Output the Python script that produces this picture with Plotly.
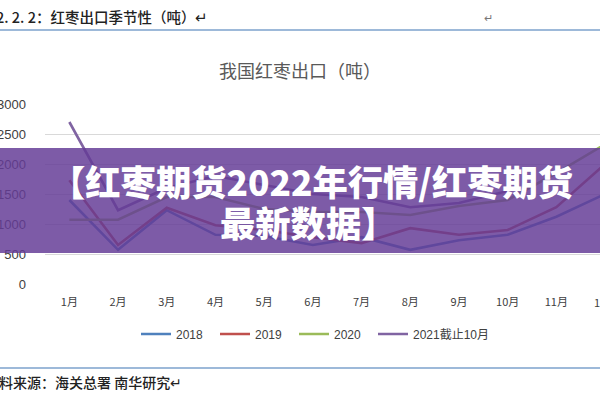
import plotly.graph_objects as go

# ---- data ----
months = ["1月", "2月", "3月", "4月", "5月", "6月", "7月", "8月", "9月", "10月", "11月", "12月"]
month_idx = [1, 2, 3, 4, 5, 6, 7, 8, 9, 10, 11, 12]
s2018 = [1400, 570, 1230, 820, 800, 650, 780, 570, 730, 820, 1120, 1500]
s2019 = [1730, 650, 1270, 980, 900, 780, 680, 930, 820, 900, 1280, 2000]
s2020 = [1070, 1070, 1450, 1450, 1250, 1200, 1200, 1150, 1300, 1400, 1850, 2330]
s2021 = [2700, 1230, 1600, 1800, 1650, 1500, 1450, 1280, 1350, 1550]
series_names = ["2018", "2019", "2020", "2021截止10月"]
series_colors = ["#4F81BD", "#C0504D", "#9BBB59", "#8064A2"]
y_ticks = [0, 500, 1000, 1500, 2000, 2500, 3000]

W, H = 600, 400
L, R, T, B = 45, 0, 104, 116
PW, PH = W - L - R, H - T - B

def px(xp):
    return (xp - L) / PW

def py(yp):
    return (H - B - yp) / PH

FONT = "Liberation Sans, Arial, Noto Sans CJK SC, sans-serif"
CJK = "Noto Sans CJK SC, Liberation Sans, sans-serif"

fig = go.Figure()
for i, (name, vals, col) in enumerate(zip(series_names, [s2018, s2019, s2020, s2021], series_colors)):
    fig.add_trace(go.Scatter(
        x=month_idx[:len(vals)], y=vals, name=name, mode="lines",
        line=dict(color=col, width=2.6), cliponaxis=True,
        legend="legend" if i < 3 else "legend2",
    ))

ENTRY = 79
leg_common = dict(orientation="h", xanchor="left", y=py(334), yanchor="middle",
                  font=dict(family=FONT, size=12, color="#404040"), bgcolor="rgba(0,0,0,0)",
                  tracegroupgap=0)

fig.update_layout(
    width=W, height=H,
    margin=dict(l=L, r=R, t=T, b=B, autoexpand=False),
    paper_bgcolor="white", plot_bgcolor="white",
    title=dict(text="我国红枣出口（吨）", x=0.5, xref="container", xanchor="center",
               y=1 - 72 / H, yref="container", yanchor="middle",
               font=dict(family=CJK, size=18, color="#595959")),
    xaxis=dict(range=[0.5, 0.5 + PW / 48.7], tickvals=month_idx, ticktext=months,
               showgrid=False, zeroline=False, showline=False, ticks="",
               tickfont=dict(family=CJK, size=11, color="#404040"), ticklabelstandoff=10),
    yaxis=dict(range=[0, 3000], tickvals=y_ticks, showgrid=True, gridcolor="#D9D9D9",
               gridwidth=1, zeroline=False, showline=False, ticks="",
               tickfont=dict(family=FONT, size=13, color="#404040"), ticklabelstandoff=18),
    showlegend=True,
    legend=dict(x=px(136), entrywidth=ENTRY - 45, entrywidthmode="pixels", **leg_common),
    legend2=dict(x=px(136 + 3 * ENTRY), **leg_common),
)

shapes = [
    dict(type="line", xref="paper", yref="paper", x0=px(0), x1=px(W), y0=py(30), y1=py(30),
         line=dict(color="#9DB9D9", width=2)),
    dict(type="line", xref="paper", yref="paper", x0=px(0), x1=px(W), y0=py(368), y1=py(368),
         line=dict(color="#9DB9D9", width=2)),
    dict(type="rect", xref="paper", yref="paper", x0=px(0), x1=px(W), y0=py(253), y1=py(148),
         fillcolor="rgba(100,60,150,0.84)", line=dict(width=0), layer="above"),
]
fig.update_layout(shapes=shapes)

ann = [
    dict(text="2. 2. 2：红枣出口季节性（吨）↵", x=px(-6), y=py(16), xanchor="left", yanchor="middle",
         font=dict(family=CJK, size=14.5, color="#222222", weight=500)),
    dict(text="↵", x=px(488), y=py(17), xanchor="center", yanchor="middle",
         font=dict(family=CJK, size=11, color="#777777")),
    dict(text="料来源：海关总署 南华研究↵", x=px(-3), y=py(382), xanchor="left", yanchor="middle",
         font=dict(family=CJK, size=14, color="#222222", weight=500)),
    dict(text="12月", x=px(605), y=py(302), xanchor="center", yanchor="middle",
         font=dict(family=CJK, size=11, color="#404040")),
    dict(text="【红枣期货2022年行情/红枣期货", x=px(311), y=py(180), xanchor="center", yanchor="middle",
         font=dict(family=CJK, size=35.3, color="white", weight=900)),
    dict(text="最新数据】", x=px(308), y=py(221), xanchor="center", yanchor="middle",
         font=dict(family=CJK, size=35.3, color="white", weight=900)),
]
for a in ann:
    a.update(xref="paper", yref="paper", showarrow=False)
fig.update_layout(annotations=ann)

fig.write_html("out.html", config={"displayModeBar": False},
               post_script="document.body.style.margin='0';document.body.style.overflow='hidden';")
